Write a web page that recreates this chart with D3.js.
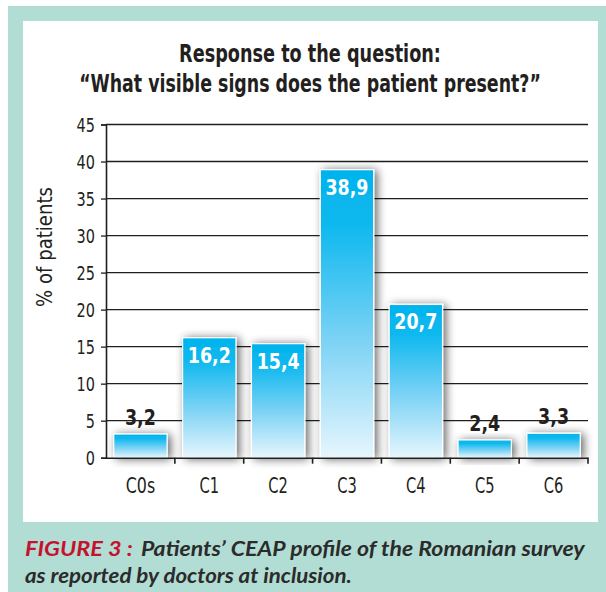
<!DOCTYPE html>
<html><head><meta charset="utf-8">
<script src="https://cdn.jsdelivr.net/npm/d3@7"></script>
<style>html,body{margin:0;padding:0;background:#fff}svg{display:block}</style>
</head><body>
<script>
const categories = ["C0s","C1","C2","C3","C4","C5","C6"];
const values = [3.2,16.2,15.4,38.9,20.7,2.4,3.3];
const valueLabels = ["3,2","16,2","15,4","38,9","20,7","2,4","3,3"];
const labelInside = [false,true,true,true,true,false,false];
const yTicks = [0,5,10,15,20,25,30,35,40,45];
const titleLines = ["Response to the question:","\u201cWhat visible signs does the patient present?\u201d"];
const yTitle = "% of patients";
const captionRed = "FIGURE 3 :";
const captionLine1 = "Patients\u2019 CEAP profile of the Romanian survey";
const captionLine2 = "as reported by doctors at inclusion.";

const W = 606, H = 592;
const narrow = "'Liberation Sans Narrow','DejaVu Sans Condensed','Open Sans',sans-serif";
const svg = d3.select("body").append("svg").attr("width", W).attr("height", H);
const defs = svg.append("defs");
const grad = defs.append("linearGradient").attr("id","barGrad").attr("x1",0).attr("y1",0).attr("x2",0).attr("y2",1);
[[0,"#00b3ec"],[0.2,"#10b9ef"],[0.6,"#7ed3f5"],[1,"#e6f6fd"]].forEach(s=>grad.append("stop").attr("offset",s[0]).attr("stop-color",s[1]));
const f = defs.append("filter").attr("id","shadow").attr("x","-40%").attr("y","-40%").attr("width","180%").attr("height","180%");
f.append("feGaussianBlur").attr("in","SourceAlpha").attr("stdDeviation",5).attr("result","b");
f.append("feOffset").attr("in","b").attr("dx",3).attr("dy",1).attr("result","o");
f.append("feComponentTransfer").attr("in","o").attr("result","s").append("feFuncA").attr("type","linear").attr("slope",0.6);
const m = f.append("feMerge"); m.append("feMergeNode").attr("in","s"); m.append("feMergeNode").attr("in","SourceGraphic");

// frame
svg.append("rect").attr("x",8).attr("y",6).attr("width",W-8).attr("height",H-6).attr("fill","#b2ddd4");
svg.append("rect").attr("x",23).attr("y",21).attr("width",575).attr("height",501).attr("fill","#fff");

function fit(sel, w){ sel.attr("textLength", w).attr("lengthAdjust","spacingAndGlyphs"); return sel; }
// horizontally squeeze a text to width w, placed at (x,y) with anchor
function squeeze(sel, x, y, w, rot){
  const n = sel.node().getComputedTextLength();
  const k = w / n;
  sel.attr("x",0).attr("y",0).attr("transform",`translate(${x},${y})${rot?` rotate(${rot})`:""} scale(${k},1)`);
  return sel;
}

// title
const tWidths = [262, 462];
titleLines.forEach((t,i)=>{
  const s = svg.append("text").attr("text-anchor","middle")
    .attr("font-family",narrow).attr("font-weight","bold").attr("font-size",24).attr("fill","#231f20").text(t);
  squeeze(s, 310, 62+i*30, tWidths[i]);
});

const x = d3.scaleBand().domain(categories).range([106,588]).paddingInner(0.225).paddingOuter(0.1125);
const y = d3.scaleLinear().domain([0,45]).range([457.7,124.5]);

// gridlines
svg.append("g").selectAll("line").data(yTicks.filter(d=>d>0)).join("line")
  .attr("x1",106).attr("x2",588).attr("y1",d=>y(d)).attr("y2",d=>y(d))
  .attr("stroke","#1f1f1f").attr("stroke-width",1.3);

// bars
svg.append("g").selectAll("rect").data(values).join("rect")
  .attr("x",(d,i)=>x(categories[i])).attr("width",x.bandwidth())
  .attr("y",d=>y(d)).attr("height",d=>y(0)-y(d))
  .attr("fill","url(#barGrad)").attr("stroke","#fff").attr("stroke-width",1.2)
  .attr("filter","url(#shadow)");

// y axis
const yAxis = svg.append("g").attr("transform","translate(106,0)")
  .call(d3.axisLeft(y).tickValues(yTicks).tickSize(5).tickPadding(6).tickFormat(d3.format("d")));
yAxis.select(".domain").attr("stroke","#1f1f1f").attr("stroke-width",1.6);
yAxis.selectAll(".tick line").attr("stroke","#1f1f1f").attr("stroke-width",1.3);
yAxis.selectAll("text").attr("font-family",narrow).attr("font-size",20).attr("fill","#231f20").attr("dy","0.36em")
  .each(function(){ fit(d3.select(this), this.textContent.length*9.2); });

// x axis
const xAxis = svg.append("g").attr("transform",`translate(0,${y(0)})`)
  .call(d3.axisBottom(x).tickSize(0).tickPadding(20));
xAxis.select(".domain").attr("stroke","#1f1f1f").attr("stroke-width",1.6);
xAxis.selectAll("text").attr("font-family",narrow).attr("font-size",21).attr("fill","#231f20")
  .each(function(){ fit(d3.select(this), this.textContent.length*9.8); });
xAxis.selectAll("line.bnd").data(d3.range(1, categories.length+1)).join("line").attr("class","bnd")
  .attr("x1",i=>x.range()[0]+i*x.step()).attr("x2",i=>x.range()[0]+i*x.step())
  .attr("y1",0).attr("y2",6).attr("stroke","#1f1f1f").attr("stroke-width",1.6);

// value labels
svg.append("g").selectAll("text").data(values).join("text")
  .attr("x",(d,i)=>x(categories[i])+x.bandwidth()/2)
  .attr("y",(d,i)=>labelInside[i]? y(d)+25 : y(d)-9)
  .attr("text-anchor","middle").attr("font-family",narrow).attr("font-weight","bold").attr("font-size",22)
  .attr("fill",(d,i)=>labelInside[i]?"#fff":"#231f20")
  .text((d,i)=>valueLabels[i])
  .each(function(d,i){ fit(d3.select(this), valueLabels[i].length===4 ? 43 : 31); });

// y title
const yt = svg.append("text").attr("text-anchor","middle")
  .attr("font-family",narrow).attr("font-size",22).attr("fill","#231f20").text(yTitle);
squeeze(yt, 52, 247, 120, -90);

// caption
const capFont = "Lato,'Open Sans',sans-serif";
function capText(t, col){
  return svg.append("text").attr("font-family",capFont).attr("font-style","italic").attr("font-weight",700)
    .attr("font-size",21).attr("fill",col).text(t);
}
squeeze(capText(captionRed, "#c4122f"), 25, 556, 108);
squeeze(capText(captionLine1, "#2b2b2b"), 141, 556, 444);
squeeze(capText(captionLine2, "#2b2b2b"), 25, 583, 327);
</script>
</body></html>
